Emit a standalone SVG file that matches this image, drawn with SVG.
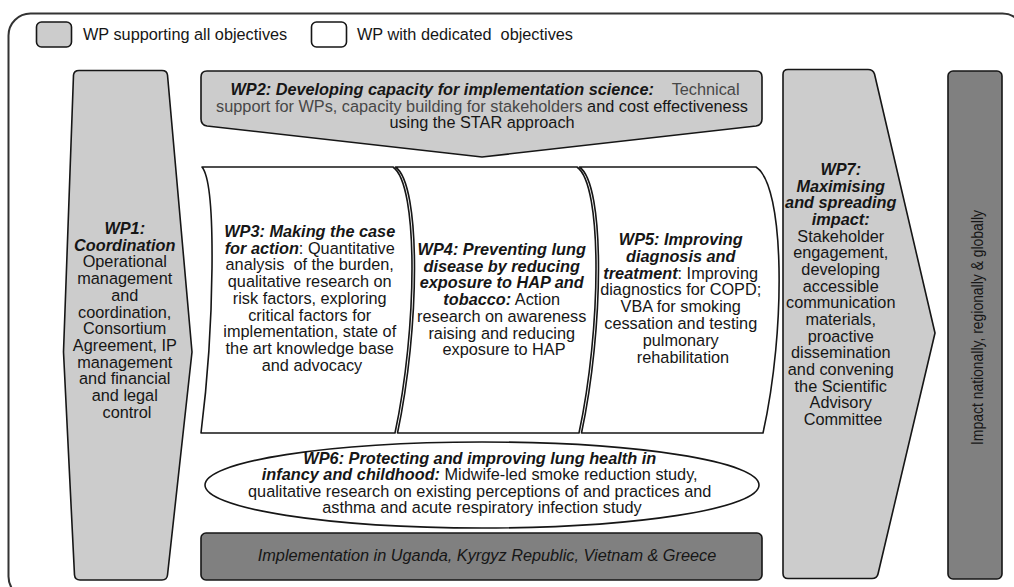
<svg xmlns="http://www.w3.org/2000/svg" width="1014" height="587" viewBox="0 0 1014 587">
  <style>
    text { font-family: "Liberation Sans", Arial, sans-serif; font-size: 16.3px; fill: #161616; }
    .c { text-anchor: middle; }
    .bi { font-weight: bold; font-style: italic; }
    .it { font-style: italic; }
    .soft { fill: #474747; }
    .light { fill: #cccccc; stroke: #161616; stroke-width: 1.6; stroke-linejoin: round; }
    .dark { fill: #808080; stroke: #161616; stroke-width: 1.6; }
    .white { fill: #ffffff; stroke: #161616; stroke-width: 1.6; stroke-linejoin: round; }
  </style>

  <!-- outer frame -->
  <rect x="8.5" y="13.5" width="1016" height="585" rx="22" fill="none" stroke="#333333" stroke-width="2"/>

  <!-- legend -->
  <g id="legend">
    <rect class="light" x="36.5" y="22" width="35" height="25" rx="5"/>
    <text x="83" y="40">WP supporting all objectives</text>
    <rect class="white" x="311.5" y="22" width="35" height="25" rx="5"/>
    <text x="357" y="40" xml:space="preserve">WP with dedicated  objectives</text>
  </g>

  <!-- WP1: coordination -->
  <g id="wp1">
    <path class="light" d="M79,70.5 H162 Q167,70.5 167.5,75 L192,352 L167.5,575 Q167,580 162,580 H80 Q75,580 74.5,575 L63.5,352 L73.5,75 Q74,70.5 79,70.5 Z"/>
    <text class="c" x="127" y="234">
      <tspan class="bi" x="127">WP1:</tspan>
      <tspan class="bi" x="127" dy="16.7">Coordination</tspan>
      <tspan x="127" dy="16.7">Operational</tspan>
      <tspan x="127" dy="16.7">management</tspan>
      <tspan x="127" dy="16.7">and</tspan>
      <tspan x="127" dy="16.7">coordination,</tspan>
      <tspan x="127" dy="16.7">Consortium</tspan>
      <tspan x="127" dy="16.7">Agreement, IP</tspan>
      <tspan x="127" dy="16.7">management</tspan>
      <tspan x="127" dy="16.7">and financial</tspan>
      <tspan x="127" dy="16.7">and legal</tspan>
      <tspan x="127" dy="16.7">control</tspan>
    </text>
  </g>

  <!-- WP2: implementation science -->
  <g id="wp2">
    <path class="light" d="M207,71 H756 Q762,71 762,77 V119 Q762,125 756,126 L482,157 L207,126 Q201,125 201,119 V77 Q201,71 207,71 Z"/>
    <text class="c" x="485" y="95" xml:space="preserve"><tspan class="bi">WP2: Developing capacity for implementation science:</tspan><tspan class="soft">    Technical</tspan></text>
    <text class="c" x="482" y="111.7"><tspan class="soft">support for WPs, capacity building for stakeholders</tspan> and cost effectiveness</text>
    <text class="c" x="482" y="128.4">using the STAR approach</text>
  </g>

  <!-- WP3: making the case -->
  <g id="wp3">
    <path class="white" d="M202,167 L393,167 C419,185 417,330 395,433 L201,433 C214,330 217,185 202,167 Z"/>
    <text class="c" x="312" y="237">
      <tspan class="bi" x="312">WP3: Making the case</tspan>
      <tspan x="312" dy="16.7"><tspan class="bi">for action</tspan>: Quantitative</tspan>
      <tspan x="312" dy="16.7" xml:space="preserve">analysis  of the burden,</tspan>
      <tspan x="312" dy="16.7">qualitative research on</tspan>
      <tspan x="312" dy="16.7">risk factors, exploring</tspan>
      <tspan x="312" dy="16.7">critical factors for</tspan>
      <tspan x="312" dy="16.7">implementation, state of</tspan>
      <tspan x="312" dy="16.7">the art knowledge base</tspan>
      <tspan x="312" dy="16.7">and advocacy</tspan>
    </text>
  </g>

  <!-- WP4: preventing lung disease -->
  <g id="wp4">
    <path class="white" d="M395.5,167 L577,167 C603,185 601,330 579,433 L397.5,433 C419.5,330 421.5,185 395.5,167 Z"/>
    <text class="c" x="504" y="255">
      <tspan class="bi" x="504">WP4: Preventing lung</tspan>
      <tspan class="bi" x="504" dy="16.7">disease by reducing</tspan>
      <tspan class="bi" x="504" dy="16.7">exposure to HAP and</tspan>
      <tspan x="504" dy="16.7"><tspan class="bi">tobacco:</tspan> Action</tspan>
      <tspan x="504" dy="16.7">research on awareness</tspan>
      <tspan x="504" dy="16.7">raising and reducing</tspan>
      <tspan x="504" dy="16.7">exposure to HAP</tspan>
    </text>
  </g>

  <!-- WP5: diagnosis and treatment -->
  <g id="wp5">
    <path class="white" d="M579.5,167 L756,167 C785,185 786,330 763,433 L581.5,433 C603.5,330 605.5,185 579.5,167 Z"/>
    <text class="c" x="683" y="245">
      <tspan class="bi" x="683">WP5: Improving</tspan>
      <tspan class="bi" x="683" dy="16.8">diagnosis and</tspan>
      <tspan x="683" dy="16.8"><tspan class="bi">treatment</tspan>: Improving</tspan>
      <tspan x="683" dy="16.8">diagnostics for COPD;</tspan>
      <tspan x="683" dy="16.8">VBA for smoking</tspan>
      <tspan x="683" dy="16.8">cessation and testing</tspan>
      <tspan x="683" dy="16.8">pulmonary</tspan>
      <tspan x="683" dy="16.8">rehabilitation</tspan>
    </text>
  </g>

  <!-- WP6: infancy and childhood -->
  <g id="wp6">
    <ellipse class="white" cx="482" cy="485" rx="277" ry="43"/>
    <text class="c" x="482" y="463.5">
      <tspan class="bi" x="482">WP6: Protecting and improving lung health in</tspan>
      <tspan x="482" dy="16.5"><tspan class="bi">infancy and childhood:</tspan> Midwife-led smoke reduction study,</tspan>
      <tspan x="482" dy="16.5">qualitative research on existing perceptions of and practices and</tspan>
      <tspan x="482" dy="16.5">asthma and acute respiratory infection study</tspan>
    </text>
  </g>

  <!-- implementation countries -->
  <g id="implementation">
    <rect class="dark" x="201" y="533" width="561" height="47" rx="5"/>
    <text class="c it" x="487" y="561">Implementation in Uganda, Kyrgyz Republic, Vietnam &amp; Greece</text>
  </g>

  <!-- WP7: maximising impact -->
  <g id="wp7">
    <path class="light" d="M788,69.5 H868 Q873,69.5 874.5,74 L935,333 L878,574 Q877,578.5 872,578.5 H788 Q783,578.5 783,573.5 V74.5 Q783,69.5 788,69.5 Z"/>
    <text class="c" x="843" y="175">
      <tspan class="bi" x="843">WP7:</tspan>
      <tspan class="bi" x="843" dy="16.67">Maximising</tspan>
      <tspan class="bi" x="843" dy="16.67">and spreading</tspan>
      <tspan class="bi" x="843" dy="16.67">impact:</tspan>
      <tspan x="843" dy="16.67">Stakeholder</tspan>
      <tspan x="843" dy="16.67">engagement,</tspan>
      <tspan x="843" dy="16.67">developing</tspan>
      <tspan x="843" dy="16.67">accessible</tspan>
      <tspan x="843" dy="16.67">communication</tspan>
      <tspan x="843" dy="16.67">materials,</tspan>
      <tspan x="843" dy="16.67">proactive</tspan>
      <tspan x="843" dy="16.67">dissemination</tspan>
      <tspan x="843" dy="16.67">and convening</tspan>
      <tspan x="843" dy="16.67">the Scientific</tspan>
      <tspan x="843" dy="16.67">Advisory</tspan>
      <tspan x="843" dy="16.67">Committee</tspan>
    </text>
  </g>

  <!-- overall impact -->
  <g id="impact">
    <rect class="dark" x="948" y="71" width="54" height="508" rx="5"/>
    <text class="c" transform="translate(983,327.5) rotate(-90)" font-size="16" textLength="235" lengthAdjust="spacingAndGlyphs">Impact nationally, regionally &amp; globally</text>
  </g>
</svg>
